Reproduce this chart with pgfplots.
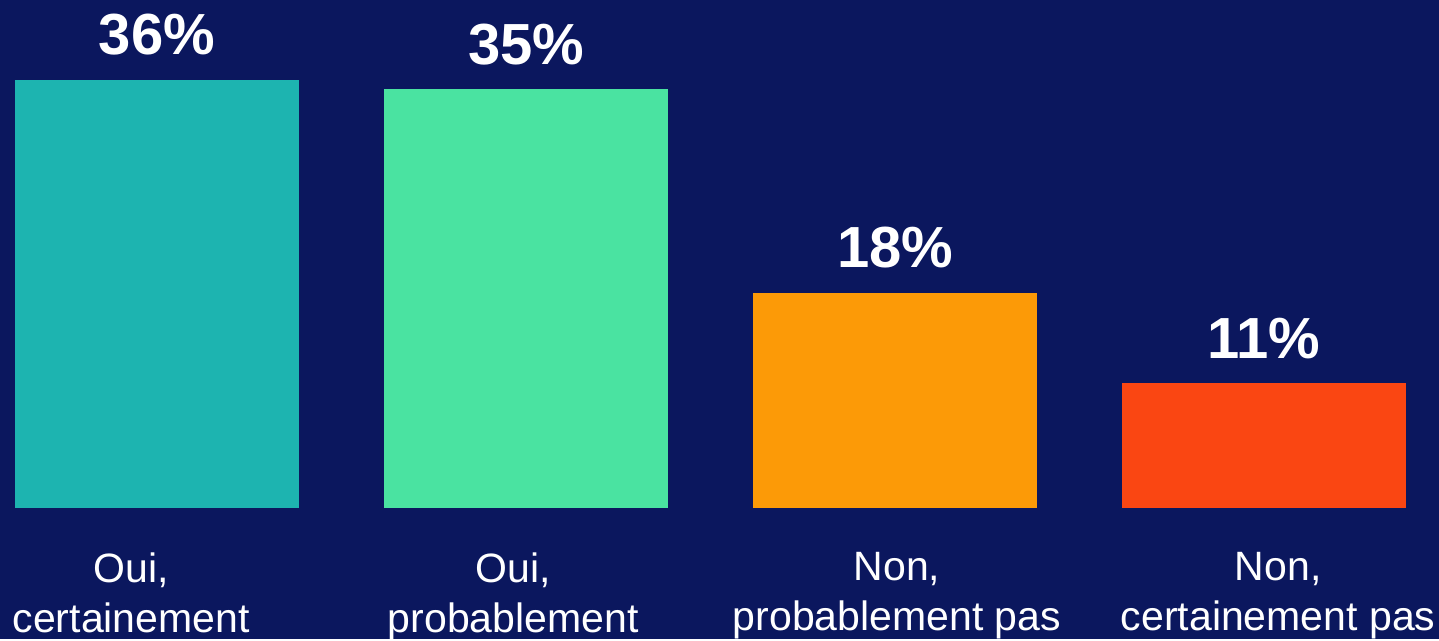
\documentclass[border=0pt]{standalone}
\usepackage{pgfplots}
\pgfplotsset{compat=1.18}
\usepackage{fontspec}
\setmainfont{Liberation Sans}
\definecolor{bg}{RGB}{11,23,94}
\definecolor{cteal}{RGB}{29,180,176}
\definecolor{cmint}{RGB}{74,227,161}
\definecolor{corange}{RGB}{252,154,7}
\definecolor{cred}{RGB}{250,70,18}
\begin{document}
\begin{tikzpicture}
\begin{axis}[
  scale only axis, width=719.5pt, height=319.5pt,
  xmin=-0.4255, xmax=3.474, ymin=-11.0, ymax=42.69,
  axis background/.style={fill=bg},
  axis line style={draw=none},
  clip=false,
  ybar, bar width=142pt,
  xtick={-0.07,0.965,2.005,3.038},
  xticklabels={{Oui,\\certainement},{Oui,\\probablement},{Non,\\probablement pas},{Non,\\certainement pas}},
  xticklabel style={align=center, text=white, inner sep=0pt, anchor=north, yshift=43.5pt,
    font=\fontsize{20.5}{25}\selectfont},
  ytick=\empty, major tick length=0pt,
  nodes near coords, point meta=explicit symbolic,
  every node near coord/.append style={text=white, anchor=base, yshift=12.5pt, inner sep=0pt,
    font=\bfseries\fontsize{29}{32}\selectfont},
]
\addplot[fill=cteal, draw=none, bar shift=0pt] coordinates {(0,36)[36\%]};
\addplot[fill=cmint, draw=none, bar shift=0pt] coordinates {(1,35.2)[35\%]};
\addplot[fill=corange, draw=none, bar shift=0pt] coordinates {(2,18.1)[18\%]};
\addplot[fill=cred, draw=none, bar shift=0pt] coordinates {(3,10.5)[11\%]};
\end{axis}
\end{tikzpicture}
\end{document}
